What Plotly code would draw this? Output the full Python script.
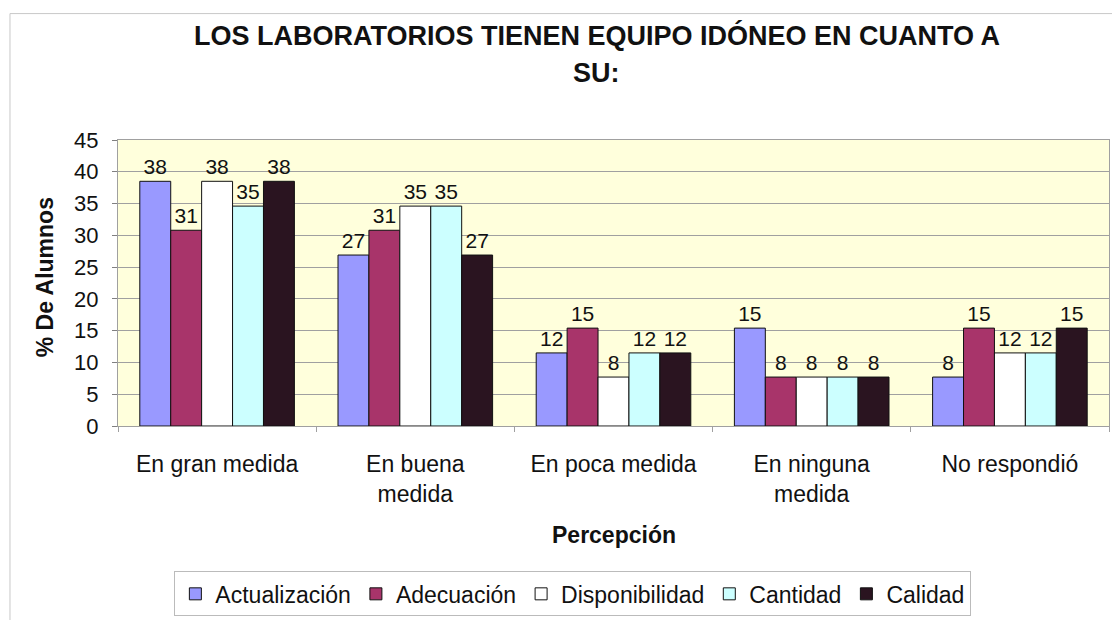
import plotly.graph_objects as go

categorias = ["En gran medida", "En buena<br>medida", "En poca medida", "En ninguna<br>medida", "No respondió"]

actualizacion = [38.5, 26.9, 11.5, 15.4, 7.7]
adecuacion = [30.8, 30.8, 15.4, 7.7, 15.4]
disponibilidad = [38.5, 34.6, 7.7, 7.7, 11.5]
cantidad = [34.6, 34.6, 11.5, 7.7, 11.5]
calidad = [38.5, 26.9, 11.5, 7.7, 15.4]

series = [
    ("Actualización", actualizacion, "#9999FF"),
    ("Adecuación", adecuacion, "#A8346A"),
    ("Disponibilidad", disponibilidad, "#FFFFFF"),
    ("Cantidad", cantidad, "#CCFFFF"),
    ("Calidad", calidad, "#2A1420"),
]

FONT = "Liberation Sans, Arial, sans-serif"

fig = go.Figure()
for nombre, valores, color in series:
    fig.add_trace(go.Bar(
        name=nombre,
        x=categorias,
        y=valores,
        marker=dict(color=color, line=dict(color="#111111", width=1)),
        text=[f"{v:.0f}" for v in valores],
        textposition="outside",
        textfont=dict(size=21, color="#111111", family=FONT),
        cliponaxis=False,
    ))

fig.update_layout(
    width=1104,
    height=612,
    barmode="group",
    bargap=0.22,
    bargroupgap=0,
    paper_bgcolor="white",
    plot_bgcolor="#FFFFDC",
    font=dict(family=FONT, size=22, color="#111111"),
    margin=dict(l=110, r=3, t=132, b=180),
    legend=dict(
        orientation="h",
        x=0.459,
        xanchor="center",
        y=-0.587,
        yanchor="middle",
        bordercolor="#BBBBBB",
        borderwidth=1,
        font=dict(size=23, family=FONT),
        itemwidth=30,
    ),
    showlegend=True,
)

# titulo en dos lineas
fig.add_annotation(text="<b>LOS LABORATORIOS TIENEN EQUIPO IDÓNEO EN CUANTO A</b>",
                   xref="paper", yref="paper", x=0.483, y=1.367, showarrow=False,
                   xanchor="center", yanchor="middle", font=dict(size=27))
fig.add_annotation(text="<b>SU:</b>",
                   xref="paper", yref="paper", x=0.483, y=1.235, showarrow=False,
                   xanchor="center", yanchor="middle", font=dict(size=27))

# titulos de ejes
fig.add_annotation(text="<b>% De Alumnos</b>", textangle=-90,
                   xref="paper", yref="paper", x=-0.0737, y=0.52, showarrow=False,
                   xanchor="center", yanchor="middle", font=dict(size=23))
fig.add_annotation(text="<b>Percepción</b>",
                   xref="paper", yref="paper", x=0.5, y=-0.38, showarrow=False,
                   xanchor="center", yanchor="middle", font=dict(size=23))

fig.update_yaxes(
    range=[0, 45],
    dtick=5,
    showgrid=True,
    gridcolor="#A0A0A0",
    gridwidth=1,
    ticks="outside",
    ticklen=5,
    tickcolor="#808080",
    tickfont=dict(size=22),
    ticklabelstandoff=9,
    showline=True,
    linecolor="#A0A0A0",
    mirror=True,
    zeroline=False,
    automargin=False,
)

fig.update_xaxes(
    ticks="outside",
    tickson="boundaries",
    ticklen=5,
    tickcolor="#A0A0A0",
    tickfont=dict(size=23),
    ticklabelstandoff=17,
    showline=True,
    linecolor="#A0A0A0",
    mirror=True,
    automargin=False,
)

# marco exterior del grafico
fig.add_shape(
    type="rect",
    xref="paper", yref="paper",
    x0=-0.109, x1=1.009, y0=-0.74, y1=1.442,
    line=dict(color="#C8C8C8", width=1),
)

fig.write_html("out.html")
